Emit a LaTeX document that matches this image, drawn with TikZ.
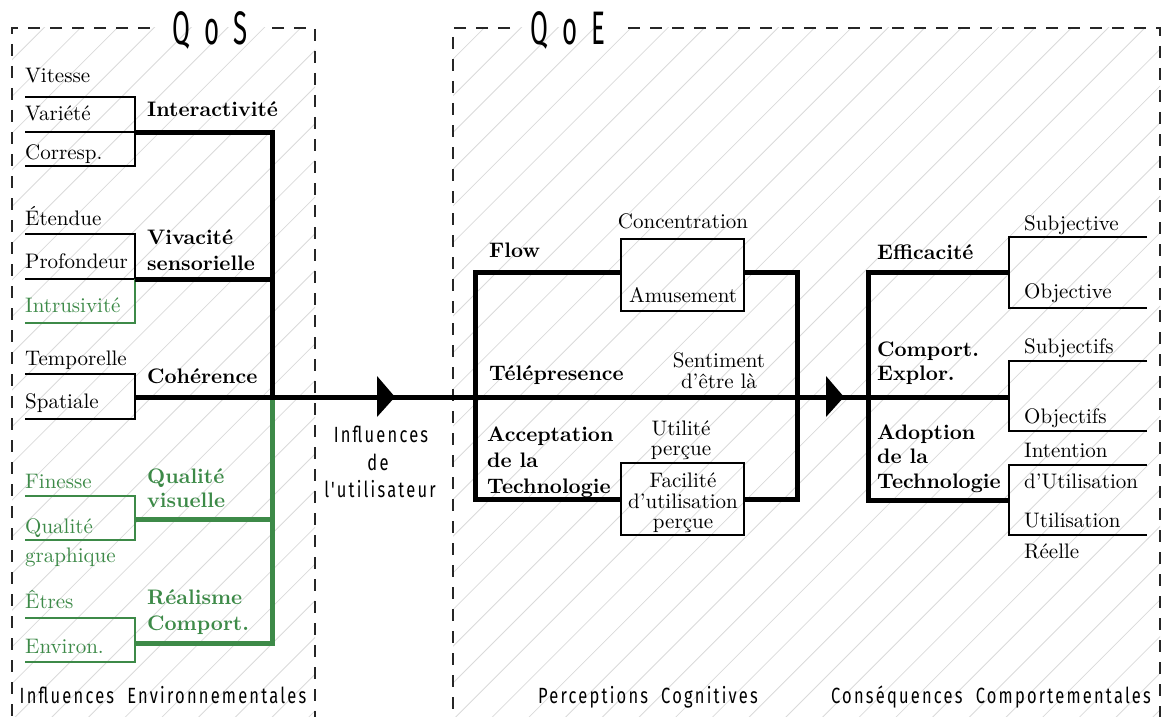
\documentclass[tikz,border=0pt]{standalone}
\usepackage{fontspec}
\setmainfont{lmroman10-regular}[Extension=.otf, BoldFont=lmroman10-bold, ItalicFont=lmroman10-italic]
\newfontfamily\condf{Fira Sans}[FakeStretch=0.75, LetterSpace=10, WordSpace=2]
\newfontfamily\titlef{Fira Sans}[FakeStretch=0.55, LetterSpace=30]
\definecolor{qgreen}{RGB}{61,138,72}
\definecolor{hatchgray}{RGB}{218,218,218}
\begin{document}
\begin{tikzpicture}[x=1pt,y=-1pt,
  brk/.style={line width=2.3pt},
  trunk/.style={line width=5pt},
  dbox/.style={line width=1.4pt, dash pattern=on 12pt off 10pt, black!85},
  hatch/.style={line width=0.8pt, hatchgray},
  lab/.style={anchor=base west, inner sep=0pt, font=\fontsize{21}{25}\selectfont},
  blab/.style={anchor=base west, inner sep=0pt, font=\fontsize{21}{25}\selectfont\bfseries},
  clab/.style={anchor=base, inner sep=0pt, font=\fontsize{21}{25}\selectfont},
  slab/.style={anchor=base, inner sep=0pt, font=\condf\fontsize{22}{26}\selectfont},
  ttl/.style={anchor=base, inner sep=0pt, font=\titlef\fontsize{47}{50}\selectfont},
]
\useasboundingbox (0,0) rectangle (1163,717);

% hatching
\begin{scope}
  \clip (12,28) rectangle (315,730);
  \foreach \k in {0,...,52} \draw[hatch] ({35+36.7*\k},0) -- ({35+36.7*\k-800},800);
\end{scope}
\begin{scope}
  \clip (453,28) rectangle (1160,730);
  \foreach \k in {0,...,52} \draw[hatch] ({35+36.7*\k},0) -- ({35+36.7*\k-800},800);
\end{scope}

% dashed frames
\coordinate (sA) at (150,28); \coordinate (sTL) at (12,28); \coordinate (sBL) at (12,730);
\coordinate (sB) at (272,28); \coordinate (sTR) at (315,28); \coordinate (sBR) at (315,730);
\coordinate (eA) at (510,28); \coordinate (eTL) at (453,28); \coordinate (eBL) at (453,730);
\coordinate (eB) at (628,28); \coordinate (eTR) at (1160,28); \coordinate (eBR) at (1160,730);
\draw[dbox] (sA) -- (sTL) -- (sBL);
\draw[dbox] (sB) -- (sTR) -- (sBR);
\draw[dbox] (eA) -- (eTL) -- (eBL);
\draw[dbox] (eB) -- (eTR) -- (eBR);
\node[ttl] (qos) at (210,45) {QoS};
\node[ttl] (qoe) at (568,45) {QoE};

% ---------- left tree ----------
% Interactivite
\coordinate (i1) at (25,97); \coordinate (i2) at (25,132); \coordinate (i3) at (25,166);
\coordinate (ib1) at (135,97); \coordinate (ij) at (135,132); \coordinate (ib3) at (135,166);
\draw[brk] (i1) -- (ib1) -- (ib3) -- (i3);
\draw[brk] (i2) -- (ij);
% Vivacite
\coordinate (v1) at (25,234); \coordinate (v2) at (25,279); \coordinate (v3) at (25,323);
\coordinate (vb1) at (135,234); \coordinate (vj) at (135,279); \coordinate (vb3) at (135,323);
\draw[brk] (v1) -- (vb1) -- (vj) -- (v2);
\draw[brk,qgreen] (vj) -- (vb3) -- (v3);
% Coherence
\coordinate (c1) at (25,374); \coordinate (c2) at (25,419);
\coordinate (cb1) at (135,374); \coordinate (cj) at (135,397); \coordinate (cb2) at (135,419);
\draw[brk] (c1) -- (cb1) -- (cb2) -- (c2);
% Qualite visuelle
\coordinate (q1) at (25,496); \coordinate (q2) at (25,540);
\coordinate (qb1) at (135,496); \coordinate (qj) at (135,519); \coordinate (qb2) at (135,540);
\draw[brk,qgreen] (q1) -- (qb1) -- (qb2) -- (q2);
% Realisme
\coordinate (r1) at (25,618); \coordinate (r2) at (25,662);
\coordinate (rb1) at (135,618); \coordinate (rj) at (135,643); \coordinate (rb2) at (135,662);
\draw[brk,qgreen] (r1) -- (rb1) -- (rb2) -- (r2);

% trunks
\coordinate (T1) at (272,132);
\coordinate (T2) at (272,279); \coordinate (Tc) at (272,397);
\coordinate (Tq) at (272,519); \coordinate (Tr) at (272,643);
\draw[trunk,qgreen] (qj) -- (Tq);
\draw[trunk,qgreen] (Tc) -- (Tr) -- (rj);
\draw[trunk] (ij) -- (T1) -- (Tc);
\draw[trunk] (vj) -- (T2);
\coordinate (Rend) at (1009,397);
\draw[trunk] (cj) -- (Rend);

% arrow heads
\coordinate (a1b) at (377,376); \coordinate (a1t) at (395,397); \coordinate (a1c) at (377,417);
\fill (a1b) -- (a1t) -- (a1c) -- cycle;
\coordinate (a2b) at (826,376); \coordinate (a2t) at (844,397); \coordinate (a2c) at (826,417);
\fill (a2b) -- (a2t) -- (a2c) -- cycle;

% ---------- QoE middle ----------
\coordinate (m1) at (621,272); \coordinate (mTL) at (475,272); \coordinate (mBL) at (475,499); \coordinate (m2) at (621,499);
\coordinate (m3) at (744,272); \coordinate (mTR) at (797,272); \coordinate (mBR) at (797,499); \coordinate (m4) at (744,499);
\draw[trunk] (m1) -- (mTL) -- (mBL) -- (m2);
\draw[trunk] (m3) -- (mTR) -- (mBR) -- (m4);
\draw[brk] (621,239) rectangle (744,311);
\draw[brk] (621,463) rectangle (744,535);

% ---------- right ----------
\coordinate (k1) at (1009,272); \coordinate (kT) at (868,272); \coordinate (kB) at (868,500); \coordinate (k3) at (1009,500);
\draw[trunk] (k1) -- (kT) -- (kB) -- (k3);
\draw[brk] (1147,237) -- (1009,237) -- (1009,308) -- (1147,308);
\draw[brk] (1147,361) -- (1009,361) -- (1009,431) -- (1147,431);
\draw[brk] (1147,465) -- (1009,465) -- (1009,535) -- (1147,535);

% ---------- labels left ----------
\node[lab] (tVit) at (25,83) {Vitesse};
\node[lab] (tVar) at (25,121) {Variété};
\node[lab] (tCor) at (25,159) {Corresp.};
\node[lab] (tEte) at (25,225) {Étendue};
\node[lab] (tPro) at (25,268) {Profondeur};
\node[lab,qgreen] (tInt) at (25,312) {Intrusivité};
\node[lab] (tTem) at (25,365) {Temporelle};
\node[lab] (tSpa) at (25,408) {Spatiale};
\node[lab,qgreen] (tFin) at (25,488) {Finesse};
\node[lab,qgreen] (tQg1) at (25,533) {Qualité};
\node[lab,qgreen] (tQg2) at (25,562) {graphique};
\node[lab,qgreen] (tEtr) at (25,608) {Êtres};
\node[lab,qgreen] (tEnv) at (25,653) {Environ.};

\node[blab] (bInt) at (147,117) {Interactivité};
\node[blab] (bViv1) at (147,244) {Vivacité};
\node[blab] (bViv2) at (147,270) {sensorielle};
\node[blab] (bCoh) at (147,383) {Cohérence};
\node[blab,qgreen] (bQv1) at (147,483) {Qualité};
\node[blab,qgreen] (bQv2) at (147,507) {visuelle};
\node[blab,qgreen] (bRe1) at (147,604) {Réalisme};
\node[blab,qgreen] (bRe2) at (147,630) {Comport.};

% ---------- labels middle ----------
\node[slab] (u1) at (381,442) {Influences};
\node[slab] (u2) at (378,470) {de};
\node[slab] (u3) at (380,497) {l'utilisateur};

\node[blab] (bFlow) at (489,257) {Flow};
\node[blab] (bTel) at (489,380) {Télépresence};
\node[blab] (bAc1) at (487,441) {Acceptation};
\node[blab] (bAc2) at (487,467) {de la};
\node[blab] (bAc3) at (487,493) {Technologie};

\node[clab] (tConc) at (683,228) {Concentration};
\node[clab] (tAmu) at (683,302) {Amusement};
\node[clab] (tSen1) at (719,367) {Sentiment};
\node[clab] (tSen2) at (719,388) {d'être là};
\node[clab] (tUt1) at (681,435) {Utilité};
\node[clab] (tUt2) at (681,455) {perçue};
\node[clab] (tFa1) at (683,487) {Facilité};
\node[clab] (tFa2) at (683,508) {d'utilisation};
\node[clab] (tFa3) at (683,528) {perçue};

% ---------- labels right ----------
\node[blab] (bEff) at (877,259) {Efficacité};
\node[blab] (bCo1) at (877,356) {Comport.};
\node[blab] (bCo2) at (877,380) {Explor.};
\node[blab] (bAd1) at (877,439) {Adoption};
\node[blab] (bAd2) at (877,463) {de la};
\node[blab] (bAd3) at (877,488) {Technologie};

\node[lab] (tSub1) at (1024,230) {Subjective};
\node[lab] (tObj1) at (1024,298) {Objective};
\node[lab] (tSub2) at (1024,353) {Subjectifs};
\node[lab] (tObj2) at (1024,423) {Objectifs};
\node[lab] (tInt1) at (1024,457) {Intention};
\node[lab] (tInt2) at (1024,488) {d'Utilisation};
\node[lab] (tUti1) at (1024,527) {Utilisation};
\node[lab] (tUti2) at (1024,558) {Réelle};

% ---------- bottom ----------
\node[slab] (fEnv) at (163,703) {Influences Environnementales};
\node[slab] (fCog) at (648,703) {Perceptions Cognitives};
\node[slab] (fCom) at (991,703) {Conséquences Comportementales};
\end{tikzpicture}
\end{document}
